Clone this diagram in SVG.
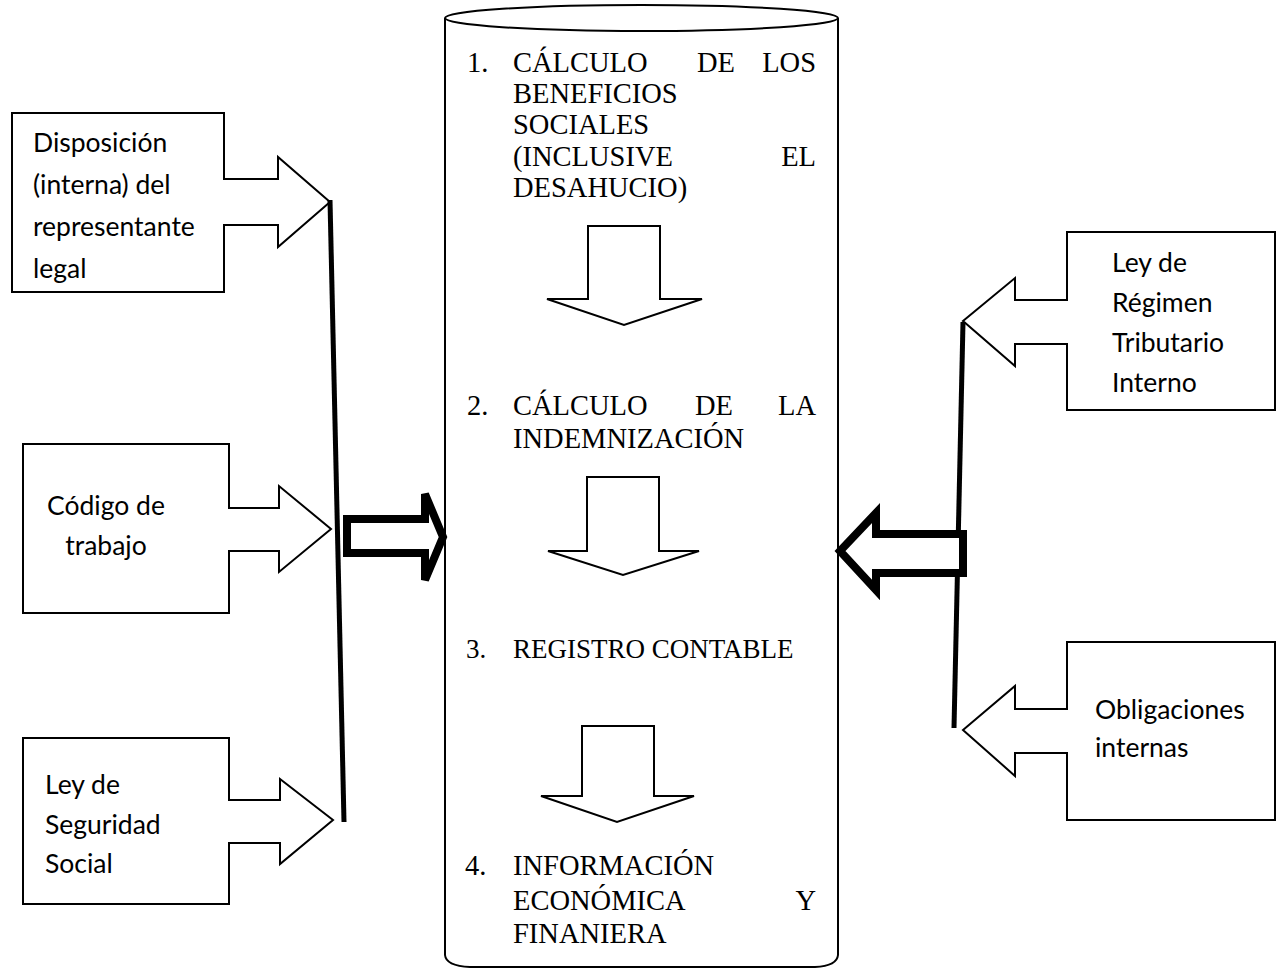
<svg xmlns="http://www.w3.org/2000/svg" width="1283" height="971" viewBox="0 0 1283 971">
<style>
.sh{fill:#fff;stroke:#000;stroke-width:2;stroke-linejoin:miter}
.thin{fill:#fff;stroke:#000;stroke-width:2}
.bar{stroke:#000;stroke-width:5;fill:none}
.big{fill:#fff;stroke:#000;stroke-width:8;stroke-linejoin:miter}
.s{font-family:Lato,"Liberation Sans",sans-serif;font-size:26.5px;fill:#000}
.t{font-family:"Liberation Serif","Times New Roman",serif;font-size:28.5px;fill:#000}
.t3{font-family:"Liberation Serif","Times New Roman",serif;font-size:27px;fill:#000}
</style>
<rect width="1283" height="971" fill="#fff"/>

<g id="cylinder">
  <path class="thin" d="M445,18 L445,955 Q446,966 470,967 L815,967 Q837,966 838,955 L838,18"/>
  <ellipse class="thin" cx="641.5" cy="18" rx="196.5" ry="13"/>
  <g id="step1">
    <text class="t" x="467" y="72">1.</text>
    <text class="t" x="513" y="72">CÁLCULO</text>
    <text class="t" x="697" y="72">DE</text>
    <text class="t" x="816" y="72" text-anchor="end">LOS</text>
    <text class="t" x="513" y="103">BENEFICIOS</text>
    <text class="t" x="513" y="134">SOCIALES</text>
    <text class="t" x="513" y="166">(INCLUSIVE</text>
    <text class="t" x="816" y="166" text-anchor="end">EL</text>
    <text class="t" x="513" y="197">DESAHUCIO)</text>
  </g>
  <path id="down1" class="thin" d="M588,226 L660,226 L660,299 L702,299 L624,325 L547,299 L588,299 Z"/>
  <g id="step2">
    <text class="t" x="467" y="415">2.</text>
    <text class="t" x="513" y="415">CÁLCULO</text>
    <text class="t" x="695" y="415">DE</text>
    <text class="t" x="816" y="415" text-anchor="end">LA</text>
    <text class="t" x="513" y="448">INDEMNIZACIÓN</text>
  </g>
  <path id="down2" class="thin" d="M587,477 L659,477 L659,551 L699,551 L623,575 L548,551 L587,551 Z"/>
  <g id="step3">
    <text class="t3" x="466" y="658">3.</text>
    <text class="t3" x="513" y="658">REGISTRO CONTABLE</text>
  </g>
  <path id="down3" class="thin" d="M582,726 L654,726 L654,796 L694,796 L617,822 L541,796 L582,796 Z"/>
  <g id="step4">
    <text class="t" x="465" y="875">4.</text>
    <text class="t" x="513" y="875">INFORMACIÓN</text>
    <text class="t" x="513" y="910">ECONÓMICA</text>
    <text class="t" x="816" y="910" text-anchor="end">Y</text>
    <text class="t" x="513" y="943">FINANIERA</text>
  </g>
</g>

<g id="left1">
  <path class="sh" d="M12,113 L224,113 L224,179 L278,179 L278,157 L330,202 L278,247 L278,225 L224,225 L224,292 L12,292 Z"/>
  <text class="s" x="33" y="152">Disposición</text>
  <text class="s" x="33" y="194">(interna) del</text>
  <text class="s" x="33" y="236">representante</text>
  <text class="s" x="33" y="278">legal</text>
</g>
<g id="left2">
  <path class="sh" d="M23,444 L229,444 L229,508 L279,508 L279,486 L331,529 L279,572 L279,551 L229,551 L229,613 L23,613 Z"/>
  <text class="s" x="106" y="515" text-anchor="middle">Código de</text>
  <text class="s" x="106" y="555" text-anchor="middle">trabajo</text>
</g>
<g id="left3">
  <path class="sh" d="M23,738 L229,738 L229,800 L280,800 L280,779 L333,820 L280,864 L280,843 L229,843 L229,904 L23,904 Z"/>
  <text class="s" x="45" y="794">Ley de</text>
  <text class="s" x="45" y="834">Seguridad</text>
  <text class="s" x="45" y="873">Social</text>
</g>
<g id="right1">
  <path class="sh" d="M1275,232 L1067,232 L1067,300 L1015,300 L1015,278 L963,321 L1015,366 L1015,344 L1067,344 L1067,410 L1275,410 Z"/>
  <text class="s" x="1112" y="272">Ley de</text>
  <text class="s" x="1112" y="312">Régimen</text>
  <text class="s" x="1112" y="352">Tributario</text>
  <text class="s" x="1112" y="392">Interno</text>
</g>
<g id="right2">
  <path class="sh" d="M1275,642 L1067,642 L1067,709 L1015,709 L1015,686 L963,730 L1015,776 L1015,753 L1067,753 L1067,820 L1275,820 Z"/>
  <text class="s" x="1095" y="719">Obligaciones</text>
  <text class="s" x="1095" y="757">internas</text>
</g>

<g id="connectors">
  <line class="bar" x1="330" y1="200" x2="344" y2="822"/>
  <line class="bar" x1="963" y1="322" x2="954" y2="728"/>
  <path class="big" d="M347,519 L425,519 L425,494 L443,537 L425,580 L425,553 L347,553 Z"/>
  <path class="big" d="M963,534 L876,534 L876,513 L840,551 L876,590 L876,573 L963,573 Z"/>
</g>
</svg>
